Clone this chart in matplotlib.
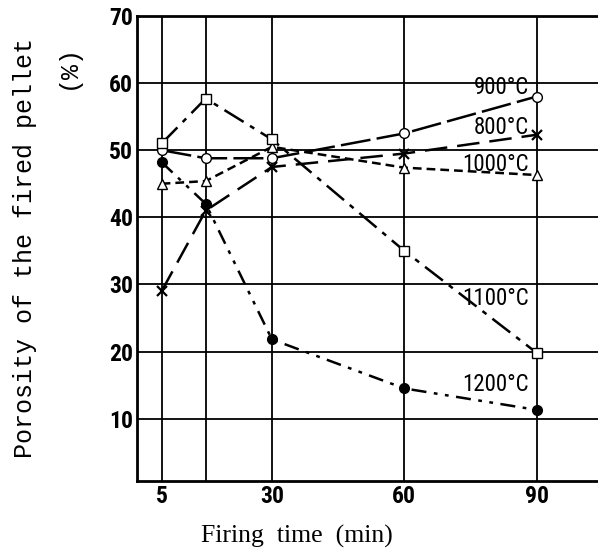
#!/usr/bin/env python3

import matplotlib.pyplot as plt

# Data
times = [5, 15, 30, 60, 90]
por_800 = [29, 41, 47.5, 49.5, 52.3]
por_900 = [50, 48.8, 48.8, 52.5, 58]
por_1000 = [45, 45.4, 50.5, 47.4, 46.3]
por_1100 = [51, 57.7, 51.6, 35, 19.8]
por_1200 = [48.2, 42, 21.8, 14.5, 11.3]

x_ticks = [5, 30, 60, 90]
x_grid = [5, 15, 30, 60, 90]
y_ticks = [10, 20, 30, 40, 50, 60, 70]

narrow = ["Liberation Sans Narrow", "DejaVu Sans Condensed",
          "Roboto Condensed", "Liberation Sans"]

fig = plt.figure(figsize=(5.98, 5.51), dpi=100)
ax = fig.add_axes([0.229, 0.127, 0.771, 0.844])

# Grid drawn by hand so the 15 min line shows without a label
for gx in x_grid:
    ax.axvline(gx, color="black", lw=1.3, zorder=1)
for gy in y_ticks:
    ax.axhline(gy, color="black", lw=1.3, zorder=1)

mk = dict(color="black", lw=1.8, markersize=7, zorder=3)
ax.plot(times, por_900, linestyle=(0, (12, 2.5)), marker="o",
        markerfacecolor="white", **mk)
ax.plot(times, por_800, linestyle=(0, (9, 4)), marker="x",
        markeredgewidth=1.6, **mk)
ax.plot(times, por_1000, linestyle=(0, (3.5, 2)), marker="^",
        markerfacecolor="white", **mk)
ax.plot(times, por_1100, linestyle=(0, (9, 3, 2, 3)), marker="s",
        markerfacecolor="white", **mk)
ax.plot(times, por_1200, linestyle=(0, (6, 3, 1.5, 3, 1.5, 3)), marker="o",
        markerfacecolor="black", **mk)

## Curve labels
labels = [("900°C", 59.3), ("800°C", 53.4), ("1000°C", 47.9),
          ("1100°C", 27.9), ("1200°C", 15.1)]
for text, ty in labels:
    ax.text(88.3, ty, text, ha="right", va="center", fontsize=16.5,
            family=narrow, zorder=4)

# Axes styling
ax.set_xlim(-0.6, 103.9)
ax.set_ylim(0.7, 70)
ax.set_xticks(x_ticks)
ax.set_yticks(y_ticks)
ax.tick_params(length=0, labelsize=17, pad=3)
for lab in ax.get_xticklabels() + ax.get_yticklabels():
    lab.set_family(narrow)
    lab.set_fontweight("bold")
ax.spines["right"].set_visible(False)
ax.spines["left"].set_linewidth(2)
ax.spines["bottom"].set_linewidth(2)
ax.spines["top"].set_linewidth(2)

## Axis titles, placed where the scan has them
fig.text(0.497, 0.005, "Firing  time  (min)", family="Liberation Serif",
         fontsize=18.5, ha="center", va="bottom")
fig.text(0.042, 0.55, "Porosity of the fired pellet", rotation=90,
         family="Liberation Mono", fontsize=18, ha="center", va="center")
fig.text(0.114, 0.88, "(%)", rotation=90, family="Liberation Mono",
         fontsize=18, ha="center", va="center")

fig.savefig("out.png", dpi=100)
